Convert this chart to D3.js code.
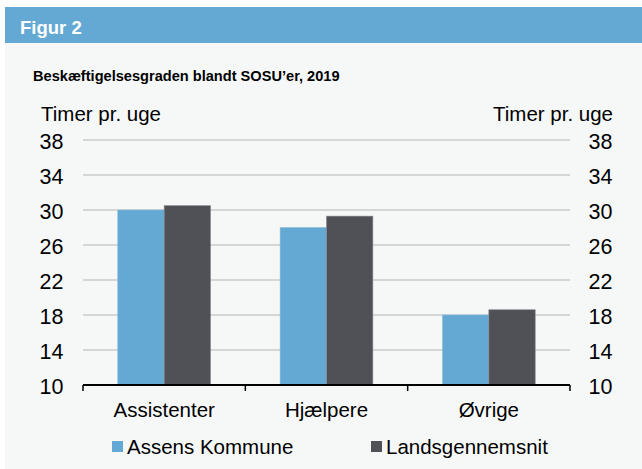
<!DOCTYPE html>
<html>
<head>
<meta charset="utf-8">
<script src="https://cdnjs.cloudflare.com/ajax/libs/d3/7.8.5/d3.min.js"></script>
<style>
  body { margin: 0; background: #ffffff; }
  svg { display: block; font-family: "Liberation Sans", Arial, sans-serif; }
</style>
</head>
<body>
<script>
var categories = ['Assistenter', 'Hjælpere', 'Øvrige'];
var seriesNames = ['Assens Kommune', 'Landsgennemsnit'];
var assens = [30.0, 28.0, 18.0];
var lands = [30.5, 29.3, 18.6];
var yTicks = [10, 14, 18, 22, 26, 30, 34, 38];
var colors = ['#63a9d4', '#505157'];

var svgWidth = 642, svgHeight = 469;
var plotLeft = 83, plotRight = 570, plotTop = 140, plotBottom = 385;

var svg = d3.select('body').append('svg')
  .attr('width', svgWidth)
  .attr('height', svgHeight);

// panel background and header band
svg.append('rect').attr('x', 5).attr('y', 7).attr('width', svgWidth - 5).attr('height', svgHeight - 7).attr('fill', '#f6f8f8');
svg.append('rect').attr('x', 5).attr('y', 7).attr('width', svgWidth - 5).attr('height', 36).attr('fill', '#63a9d4');
svg.append('text').attr('x', 20).attr('y', 34).attr('fill', '#ffffff')
  .attr('font-size', 18.5).attr('font-weight', 'bold').text('Figur 2');
svg.append('text').attr('x', 33).attr('y', 81).attr('fill', '#000')
  .attr('font-size', 14.6).attr('font-weight', 'bold').text('Beskæftigelsesgraden blandt SOSU\u2019er, 2019');

var y = d3.scaleLinear().domain([10, 38]).range([plotBottom, plotTop]);
var x0 = d3.scaleBand().domain(categories).range([plotLeft, plotRight]);
var x1 = d3.scaleBand().domain(seriesNames).range([0, x0.bandwidth()]).paddingOuter(0.75);

// grid lines
svg.selectAll('line.grid')
  .data(yTicks.slice(1))
  .enter().append('line')
  .attr('class', 'grid')
  .attr('x1', plotLeft).attr('x2', plotRight)
  .attr('y1', function(d) { return y(d); })
  .attr('y2', function(d) { return y(d); })
  .attr('stroke', '#b4b4b4').attr('stroke-width', 1);

// left and right tick labels
var fs = 20.5;
var tfs = 21.5;
svg.selectAll('text.yl')
  .data(yTicks).enter().append('text')
  .attr('class', 'yl')
  .attr('x', 63.5).attr('y', function(d) { return y(d) + 8.5; })
  .attr('text-anchor', 'end').attr('font-size', tfs).text(function(d) { return d; });
svg.selectAll('text.yr')
  .data(yTicks).enter().append('text')
  .attr('class', 'yr')
  .attr('x', 612.5).attr('y', function(d) { return y(d) + 8.5; })
  .attr('text-anchor', 'end').attr('font-size', tfs).text(function(d) { return d; });
svg.append('text').attr('x', 41).attr('y', 121).attr('font-size', fs).text('Timer pr. uge');
svg.append('text').attr('x', 613).attr('y', 121).attr('text-anchor', 'end').attr('font-size', fs).text('Timer pr. uge');

// bars
var rows = categories.map(function(c, i) {
  return { cat: c, vals: [assens[i], lands[i]] };
});
var groups = svg.selectAll('g.grp').data(rows).enter().append('g')
  .attr('class', 'grp')
  .attr('transform', function(d) { return 'translate(' + x0(d.cat) + ',0)'; });
groups.selectAll('rect')
  .data(function(d) { return d.vals.map(function(v, j) { return { s: seriesNames[j], v: v, j: j }; }); })
  .enter().append('rect')
  .attr('x', function(d) { return x1(d.s); })
  .attr('width', x1.bandwidth())
  .attr('y', function(d) { return y(d.v); })
  .attr('height', function(d) { return plotBottom - y(d.v); })
  .attr('fill', function(d) { return colors[d.j]; })
  .attr('stroke', function(d) { return d.j == 0 ? '#8fb9d4' : '#8a8a8e'; })
  .attr('stroke-width', 0.6);

// x axis
var xAxis = d3.axisBottom(x0).tickSize(0).tickPadding(17);
var gx = svg.append('g').attr('transform', 'translate(0,' + plotBottom + ')').call(xAxis);
gx.select('.domain').remove();
gx.selectAll('text').attr('font-size', fs).attr('fill', '#000')
  .attr('font-family', '"Liberation Sans", Arial, sans-serif');
svg.append('line').attr('x1', plotLeft).attr('x2', plotRight).attr('y1', plotBottom).attr('y2', plotBottom)
  .attr('stroke', '#000').attr('stroke-width', 2);
var tickXs = categories.map(function(c) { return x0(c); }).concat([plotRight]);
svg.selectAll('line.xt').data(tickXs).enter().append('line')
  .attr('class', 'xt')
  .attr('x1', function(d) { return d; }).attr('x2', function(d) { return d; })
  .attr('y1', plotBottom).attr('y2', plotBottom + 6)
  .attr('stroke', '#000').attr('stroke-width', 1.5);

// legend
var legX = [112, 371];
var leg = svg.selectAll('g.leg').data(seriesNames).enter().append('g')
  .attr('class', 'leg')
  .attr('transform', function(d, i) { return 'translate(' + legX[i] + ',441)'; });
leg.append('rect').attr('width', 11).attr('height', 11)
  .attr('fill', function(d, i) { return colors[i]; });
leg.append('text').attr('x', 15).attr('y', 13).attr('font-size', fs).text(function(d) { return d; });
</script>
</body>
</html>
